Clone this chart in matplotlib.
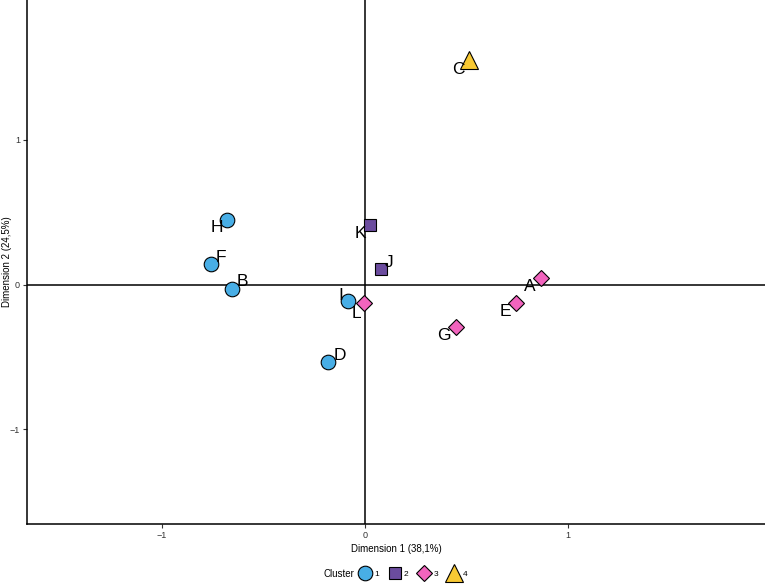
import matplotlib.pyplot as plt
from matplotlib.lines import Line2D

plt.rcParams["font.family"] = ["Liberation Sans", "DejaVu Sans"]

labels = ["A", "B", "C", "D", "E", "F", "G", "H", "I", "J", "K", "L"]
dim1 = [0.867, -0.655, 0.51, -0.18, 0.744, -0.76, 0.448, -0.68, -0.084, 0.08, 0.025, -0.005]
dim2 = [0.045, -0.03, 1.55, -0.535, -0.13, 0.14, -0.29, 0.45, -0.11, 0.11, 0.41, -0.13]
cluster = [3, 1, 4, 1, 3, 1, 3, 1, 1, 2, 2, 3]

clusters = [1, 2, 3, 4]
colors = {1: "#48AEE6", 2: "#6B4C9E", 3: "#F264BE", 4: "#F8C933"}
markers = {1: "o", 2: "s", 3: "D", 4: "^"}
msizes = {1: 10.5, 2: 9, 3: 8.5, 4: 12.5}

# label offsets in pixels (repel-like placement)
offsets = {
    "A": (-11, -8), "B": (10, 7), "C": (-10, -9), "D": (11, 7),
    "E": (-11, -8), "F": (10, 7), "G": (-12, -9), "H": (-10, -8),
    "I": (-7, 5), "J": (8, 6), "K": (-10, -8), "L": (-8, -10),
}

fig = plt.figure(figsize=(7.65, 5.84), dpi=100)
ax = fig.add_axes([27 / 765, 60 / 584, (765 - 27) / 765, 524 / 584])

ax.axhline(0, color="black", lw=1.1, zorder=1)
ax.axvline(0, color="black", lw=1.1, zorder=1)

for lab, x, y, c in zip(labels, dim1, dim2, cluster):
    ax.plot(x, y, marker=markers[c], ms=msizes[c], color=colors[c],
            mec="black", mew=0.8, ls="none", zorder=3)
    dx, dy = offsets[lab]
    ax.annotate(lab, (x, y), xytext=(dx, dy), textcoords="offset pixels",
                ha="center", va="center", fontsize=12.5, zorder=4)

ax.set_xlim(-1.665, 1.97)
ax.set_ylim(-1.654, 1.967)
ax.set_xticks([-1, 0, 1])
ax.set_yticks([-1, 0, 1])
ax.tick_params(labelsize=6.5, length=3, width=0.8, colors="#333333", pad=2)
for s in ["top", "right"]:
    ax.spines[s].set_visible(False)
for s in ["left", "bottom"]:
    ax.spines[s].set_linewidth(1.1)

ax.set_xlabel("Dimension 1 (38,1%)", fontsize=7, labelpad=3)
fig.text(7 / 765, 1 - 262 / 584, "Dimension 2 (24,5%)", fontsize=7,
         rotation=90, ha="center", va="center")

handles = [Line2D([], [], marker=markers[c], ms=msizes[c], color=colors[c],
                  mec="black", mew=0.8, ls="none") for c in clusters]
fig.text(323 / 765, 1 - 574 / 584, "Cluster", fontsize=7, va="center", ha="left")
fig.legend(handles, [str(c) for c in clusters], ncol=4, frameon=False,
           loc="center left", bbox_to_anchor=(350 / 765, 1 - 574 / 584),
           fontsize=6, handletextpad=0.2, columnspacing=1.0, handlelength=1.8)

fig.savefig("out.png", dpi=100)
